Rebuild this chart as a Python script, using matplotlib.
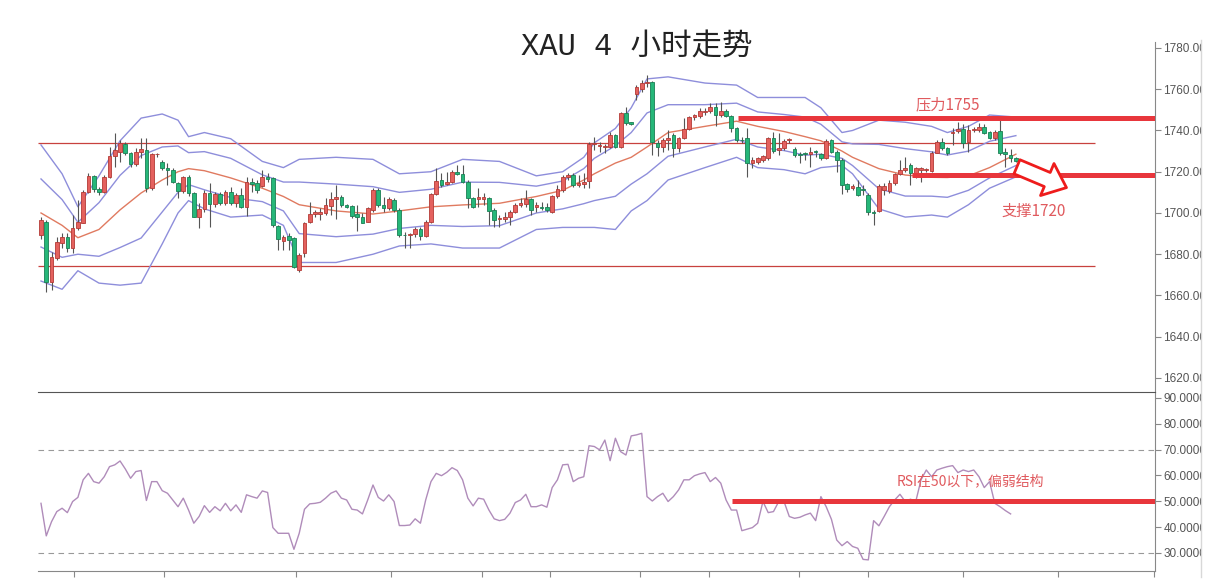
import numpy as np
import matplotlib
matplotlib.use('Agg')
import matplotlib.pyplot as plt
from matplotlib.patches import Rectangle
from matplotlib.lines import Line2D
from matplotlib import font_manager

# 4小时K线
opens = [1689.3, 1695.8, 1666.7, 1678.0, 1685.3, 1688.5, 1682.9, 1692.6, 1695.3, 1710.4,
         1718.0, 1711.5, 1710.4, 1717.3, 1727.6, 1729.7, 1733.5, 1728.9, 1723.8, 1729.4,
         1730.6, 1712.0, 1728.4, 1724.9, 1722.0, 1720.9, 1714.4, 1710.8, 1717.3, 1709.6,
         1698.2, 1701.8, 1709.5, 1704.4, 1709.1, 1704.7, 1710.4, 1704.7, 1708.7, 1703.1,
         1715.2, 1714.4, 1713.1, 1717.6, 1716.8, 1693.9, 1686.6, 1688.9, 1687.7, 1672.4,
         1680.5, 1695.8, 1699.5, 1699.5, 1700.2, 1703.6, 1706.8, 1707.9, 1703.9, 1703.4,
         1699.5, 1698.2, 1695.8, 1701.5, 1711.2, 1703.9, 1702.3, 1706.3, 1701.5, 1689.3,
         1689.3, 1689.8, 1692.1, 1689.0, 1695.8, 1709.2, 1716.0, 1714.1, 1715.2, 1719.7,
         1718.9, 1715.2, 1707.1, 1706.6, 1706.6, 1707.1, 1701.5, 1697.1, 1697.1, 1698.2,
         1700.7, 1703.9, 1704.4, 1706.8, 1703.1, 1703.1, 1703.1, 1700.7, 1708.2, 1711.2,
         1717.3, 1718.4, 1713.6, 1714.1, 1715.7, 1733.5, 1732.5, 1731.8, 1732.2, 1737.8,
         1731.8, 1748.6, 1744.3, 1757.7, 1760.0, 1762.9, 1763.7, 1734.1, 1731.8, 1735.4,
         1737.8, 1731.4, 1736.2, 1740.6, 1746.7, 1746.8, 1749.0, 1749.6, 1751.6, 1747.5,
         1749.6, 1747.0, 1741.1, 1735.4, 1736.2, 1724.4, 1724.9, 1725.7, 1726.5, 1736.2,
         1730.7, 1731.4, 1735.4, 1730.9, 1728.6, 1728.9, 1728.6, 1729.9, 1728.6, 1726.5,
         1735.4, 1729.7, 1725.7, 1714.1, 1712.3, 1712.8, 1711.5, 1708.7, 1700.5, 1701.1,
         1711.2, 1710.8, 1714.4, 1718.9, 1720.9, 1723.3, 1719.6, 1720.9, 1720.9, 1720.5,
         1729.3, 1734.6, 1731.4, 1738.6, 1739.9, 1740.6, 1734.6, 1740.2, 1740.2, 1741.9,
         1739.4, 1736.2, 1739.9, 1729.7, 1728.1, 1726.5]
highs = [1698.2, 1696.6, 1681.3, 1688.5, 1690.2, 1690.2, 1699.0, 1706.3, 1711.2, 1719.2,
         1718.4, 1712.8, 1718.4, 1732.2, 1739.0, 1735.4, 1734.6, 1729.7, 1731.4, 1736.2,
         1736.2, 1729.0, 1729.3, 1725.7, 1724.4, 1721.7, 1715.2, 1718.0, 1718.4, 1710.4,
         1704.7, 1711.2, 1714.4, 1710.4, 1710.4, 1711.2, 1712.8, 1709.5, 1712.0, 1717.6,
         1716.8, 1716.0, 1720.9, 1719.2, 1717.3, 1694.2, 1689.3, 1690.2, 1688.5, 1680.5,
         1695.8, 1705.5, 1701.5, 1702.3, 1707.1, 1710.4, 1713.6, 1708.7, 1704.4, 1703.9,
         1703.9, 1699.8, 1703.0, 1712.0, 1712.0, 1707.9, 1707.6, 1707.1, 1702.3, 1691.0,
         1690.5, 1693.1, 1693.1, 1696.6, 1709.5, 1721.7, 1719.2, 1720.0, 1720.9, 1723.3,
         1723.3, 1716.0, 1707.6, 1712.0, 1709.5, 1707.9, 1702.3, 1699.0, 1700.7, 1701.5,
         1704.7, 1707.1, 1711.2, 1707.1, 1705.5, 1705.5, 1704.7, 1708.7, 1713.6, 1718.4,
         1719.2, 1719.2, 1718.4, 1719.6, 1734.6, 1737.0, 1734.6, 1733.5, 1739.4, 1738.3,
         1749.1, 1751.6, 1744.3, 1762.1, 1764.5, 1766.9, 1764.2, 1735.4, 1736.2, 1740.2,
         1738.6, 1737.0, 1745.9, 1747.0, 1748.1, 1750.7, 1750.7, 1753.2, 1753.5, 1754.0,
         1750.3, 1747.5, 1741.5, 1737.0, 1741.1, 1727.3, 1727.3, 1728.1, 1737.0, 1739.4,
         1738.6, 1735.7, 1736.2, 1731.8, 1729.7, 1729.7, 1731.8, 1730.6, 1729.3, 1735.7,
         1735.7, 1730.6, 1726.5, 1714.7, 1714.0, 1716.0, 1713.6, 1709.5, 1701.5, 1714.0,
         1714.4, 1716.0, 1719.6, 1725.7, 1727.3, 1724.1, 1722.5, 1722.5, 1722.0, 1730.1,
         1735.4, 1736.2, 1732.2, 1741.1, 1744.3, 1743.0, 1742.7, 1741.5, 1743.8, 1743.0,
         1739.9, 1740.2, 1745.1, 1731.4, 1731.2, 1726.9]
lows = [1687.2, 1661.9, 1662.7, 1677.2, 1682.9, 1681.3, 1680.5, 1691.8, 1695.0, 1709.6,
        1710.4, 1708.7, 1709.6, 1716.8, 1722.5, 1724.9, 1728.1, 1722.5, 1722.8, 1726.5,
        1710.4, 1711.2, 1727.3, 1720.9, 1713.6, 1714.4, 1707.1, 1709.6, 1708.3, 1697.9,
        1692.6, 1700.7, 1693.4, 1703.1, 1703.9, 1703.9, 1703.9, 1703.1, 1702.3, 1698.6,
        1710.4, 1709.5, 1712.8, 1715.2, 1693.4, 1682.1, 1682.1, 1682.1, 1673.2, 1671.6,
        1678.8, 1695.0, 1698.2, 1696.6, 1699.0, 1699.0, 1696.9, 1703.1, 1702.5, 1697.4,
        1691.4, 1695.0, 1695.5, 1700.7, 1703.1, 1700.7, 1701.5, 1700.7, 1688.5, 1682.9,
        1682.9, 1688.5, 1687.0, 1688.2, 1695.0, 1708.7, 1712.8, 1713.6, 1714.4, 1718.4,
        1714.4, 1702.3, 1702.3, 1703.1, 1703.9, 1694.2, 1693.4, 1693.4, 1695.8, 1694.2,
        1699.8, 1703.1, 1703.1, 1699.0, 1700.7, 1701.5, 1700.7, 1699.8, 1707.1, 1710.4,
        1716.0, 1712.8, 1712.8, 1712.0, 1712.0, 1730.6, 1729.7, 1728.9, 1731.4, 1731.4,
        1731.4, 1742.7, 1742.7, 1754.8, 1758.8, 1761.2, 1728.1, 1727.6, 1729.7, 1730.6,
        1727.0, 1729.7, 1735.7, 1740.2, 1745.1, 1745.9, 1747.5, 1748.6, 1742.2, 1746.7,
        1746.7, 1739.4, 1734.6, 1734.1, 1717.3, 1721.7, 1723.7, 1724.9, 1725.7, 1728.9,
        1728.1, 1730.6, 1734.1, 1727.3, 1724.1, 1725.7, 1722.5, 1727.3, 1725.7, 1726.0,
        1729.3, 1720.0, 1709.2, 1710.4, 1711.0, 1708.2, 1708.7, 1699.0, 1694.2, 1700.7,
        1708.7, 1709.5, 1713.6, 1718.4, 1720.1, 1713.6, 1716.8, 1715.2, 1720.0, 1720.1,
        1728.9, 1730.6, 1728.1, 1733.0, 1738.6, 1731.4, 1729.7, 1739.4, 1739.4, 1738.3,
        1735.7, 1735.4, 1728.1, 1722.5, 1724.9, 1724.6]
closes = [1696.6, 1666.7, 1678.8, 1686.1, 1688.5, 1682.9, 1692.6, 1695.5, 1710.4, 1718.0,
          1711.5, 1710.4, 1717.3, 1727.6, 1730.6, 1734.1, 1729.3, 1723.8, 1729.4, 1730.9,
          1712.0, 1728.6, 1728.6, 1721.7, 1720.9, 1714.9, 1710.8, 1717.3, 1709.6, 1698.2,
          1701.8, 1709.5, 1704.4, 1709.1, 1704.7, 1710.4, 1704.7, 1708.7, 1703.1, 1715.2,
          1714.1, 1711.2, 1717.6, 1716.3, 1694.2, 1687.2, 1688.5, 1687.0, 1674.0, 1679.6,
          1695.3, 1699.5, 1700.7, 1700.7, 1703.9, 1706.8, 1707.9, 1703.9, 1703.1, 1698.6,
          1698.2, 1695.3, 1702.3, 1711.2, 1703.9, 1702.3, 1706.6, 1701.5, 1689.3, 1689.1,
          1689.8, 1692.1, 1689.0, 1695.8, 1709.2, 1715.7, 1713.6, 1715.2, 1719.7, 1718.9,
          1715.2, 1707.1, 1703.1, 1707.6, 1707.6, 1701.2, 1696.6, 1697.1, 1698.2, 1700.7,
          1703.9, 1704.7, 1706.8, 1701.5, 1703.9, 1702.3, 1701.5, 1708.2, 1711.5, 1717.6,
          1718.4, 1713.6, 1714.7, 1715.2, 1733.5, 1734.0, 1732.6, 1732.5, 1737.8, 1732.2,
          1748.6, 1743.8, 1743.0, 1760.9, 1762.9, 1763.7, 1734.6, 1731.8, 1735.4, 1736.2,
          1731.4, 1736.2, 1740.6, 1746.7, 1747.5, 1749.4, 1749.1, 1751.6, 1747.5, 1749.6,
          1747.0, 1741.1, 1735.4, 1735.2, 1724.1, 1725.7, 1726.5, 1727.6, 1736.2, 1730.2,
          1731.4, 1735.1, 1735.4, 1728.1, 1728.1, 1728.6, 1729.7, 1729.4, 1726.5, 1735.1,
          1729.7, 1725.7, 1713.6, 1711.5, 1713.1, 1708.7, 1711.2, 1700.7, 1699.8, 1713.1,
          1713.1, 1714.7, 1718.9, 1720.9, 1721.7, 1719.2, 1721.7, 1721.7, 1721.1, 1729.3,
          1734.6, 1731.4, 1728.9, 1739.4, 1740.6, 1734.1, 1740.2, 1740.6, 1741.9, 1738.9,
          1736.2, 1739.4, 1729.3, 1728.4, 1726.5, 1725.4]

# 布林带 (读图取样点)
band_idx = [0, 4, 7, 11, 15, 19, 23, 26, 28, 31, 36, 42, 46, 49, 56, 63, 68, 74, 80, 87,
            94, 99, 103, 105, 109, 112, 115, 119, 126, 132, 136, 141, 145, 148, 152, 154,
            159, 164, 169, 172, 176, 180, 185]
band_mid = [1700, 1694, 1688, 1692, 1701.5, 1709.7, 1716, 1720, 1721.5, 1720.5, 1717, 1712,
            1708, 1704, 1701, 1699.5, 1701, 1703, 1703.9, 1704.7, 1708, 1711, 1716, 1719,
            1724.2, 1727, 1732, 1739, 1742, 1744.5, 1742, 1739.5, 1737, 1735, 1730, 1727,
            1721.5, 1718.4, 1717.3, 1717.2, 1718, 1722, 1728.5]
band_up = [1733, 1719, 1703, 1718, 1735, 1746, 1748, 1745, 1737, 1739, 1736, 1725, 1722,
           1726, 1727, 1726, 1719, 1720, 1726, 1725, 1718, 1720, 1727, 1734, 1741, 1751,
           1765, 1766, 1763, 1762, 1756, 1756, 1756, 1751, 1739, 1740, 1745, 1744, 1742,
           1739, 1742, 1747.5, 1746.5]
band_lo = [1667, 1663, 1672, 1666, 1665, 1666, 1685, 1700, 1706, 1702, 1698, 1699, 1694,
           1676, 1676, 1680, 1684, 1685, 1683, 1683, 1692, 1693, 1693, 1693, 1692, 1701,
           1706, 1716, 1722, 1727, 1722, 1721, 1719, 1722, 1723, 1719, 1702, 1698, 1699,
           1698, 1704, 1712, 1717.5]

rsi = [49.2, 36.6, 42.1, 46.0, 47.3, 45.6, 49.9, 51.5, 58.3,
       60.8, 57.6, 57.0, 59.5, 63.4, 64.1, 65.6, 62.5, 58.9, 61.5,
       61.9, 50.3, 57.6, 57.6, 54.1, 53.1, 50.5, 47.9, 51.2, 46.6,
       41.5, 44.1, 48.3, 45.7, 47.9, 46.3, 49.2, 46.3, 48.6, 45.7,
       52.5, 51.8, 51.2, 54.0, 53.4, 39.8, 37.6, 37.6, 37.6, 31.4,
       37.6, 46.9, 49.0, 49.2, 49.6, 51.2, 53.1, 54.0, 51.2, 50.5,
       46.9, 46.6, 45.1, 50.5, 56.3, 51.5, 50.1, 52.5, 49.9, 40.6,
       40.6, 40.8, 43.2, 41.5, 50.5, 57.6, 60.8, 59.9, 61.2, 63.0,
       61.9, 58.3, 51.2, 48.2, 51.2, 50.8, 46.6, 43.2, 42.5, 43.0,
       45.4, 49.5, 50.5, 52.7, 47.9, 47.9, 48.6, 47.7, 55.3, 58.3,
       64.1, 64.3, 57.6, 58.9, 59.5, 71.5, 71.2,
       69.9, 73.7, 65.7, 74.4, 69.2, 67.9, 75.3, 75.7, 76.3, 51.8,
       50.1, 51.8, 53.1, 49.9, 51.8, 54.4, 58.3, 58.3, 59.9, 60.6,
       61.1, 57.6, 59.2, 57.0, 50.5, 46.6, 46.6, 38.6, 39.2, 39.8,
       41.5, 49.9, 45.6, 46.0, 49.9, 49.9, 44.1, 43.4, 43.8, 44.7,
       45.4, 42.5, 51.8, 47.9, 43.0, 35.0, 32.8, 34.4, 32.5, 31.8,
       27.5, 27.3, 42.5, 40.5, 44.1, 47.9, 50.5, 52.7, 49.9, 50.8,
       49.9, 58.3, 62.1, 59.5, 62.1, 62.8, 63.4, 63.8, 61.1, 62.1,
       61.5, 62.1, 59.5, 55.3, 57.6, 49.2, 47.9, 46.4, 45.1]

price_ticks = [1620, 1640, 1660, 1680, 1700, 1720, 1740, 1760, 1780]
rsi_ticks = [30, 40, 50, 60, 70, 80, 90]
time_ticks = [6.3, 23.4, 48.4, 66.5, 83.6, 96.6, 113.7, 126.7, 143.8, 157, 174.9, 193, 211.2]

range_high, range_low = 1734, 1674.3
resist, support = 1746.1, 1718.4

W, H = 1222, 587
XL = (-0.57, 211.4)

fig = plt.figure(figsize=(W / 100, H / 100), dpi=100)


def box(l, t, r, b):
    return [l / W, 1 - b / H, (r - l) / W, (b - t) / H]


ax = fig.add_axes(box(38, 42, 1155, 392))
ax2 = fig.add_axes(box(38, 392, 1155, 571))

cjk = ['Noto Sans CJK SC', 'DejaVu Sans']

# K线
x = np.arange(len(closes))
o = np.array(opens)
c = np.array(closes)
up = c >= o
ax.vlines(x, lows, highs, color='#555555', lw=0.8, zorder=3)
body_lo = np.minimum(o, c)
body_h = np.maximum(np.abs(c - o), 0.35)
ax.bar(x[up], body_h[up], bottom=body_lo[up], width=0.7, color='#e4615e',
       edgecolor='#b33a36', lw=0.6, zorder=4)
ax.bar(x[~up], body_h[~up], bottom=body_lo[~up], width=0.7, color='#26b779',
       edgecolor='#1a7f54', lw=0.6, zorder=4)

# 布林带
bi = np.array(band_idx)
bm = np.array(band_mid)
bu = np.array(band_up)
bl = np.array(band_lo)
band_col = '#8e8edb'
ax.plot(bi, bu, color=band_col, lw=1, zorder=2)
ax.plot(bi, bl, color=band_col, lw=1, zorder=2)
ax.plot(bi, (bu + bm) / 2, color=band_col, lw=1, zorder=2)
ax.plot(bi, (bl + bm) / 2, color=band_col, lw=1, zorder=2)
ax.plot(bi, bm, color='#e07a60', lw=1, zorder=2)

# 区间线
ax.hlines([range_high, range_low], XL[0], 200, color='#c8413e', lw=0.9, zorder=1)
ax.hlines(resist, 132.3, XL[1], color='#e8363c', lw=3.6, zorder=5)
ax.hlines(support, 165.3, XL[1], color='#e8363c', lw=3.6, zorder=5)
ax.text(172.1, 1752.6, '压力1755', color='#e05a5e', fontsize=11, ha='center', va='center', family=cjk)
ax.text(188.4, 1701, '支撑1720', color='#e05a5e', fontsize=11, ha='center', va='center', family=cjk)
ax.annotate('', xy=(194.6, 1712.3), xytext=(185.2, 1722.4),
            arrowprops=dict(arrowstyle='simple,head_length=0.75,head_width=1.25,tail_width=0.55',
                            fc='white', ec='#ee1c1c', lw=2, shrinkA=0, shrinkB=0,
                            mutation_scale=20), zorder=6)

ax.set_xlim(*XL)
ax.set_ylim(1613.2, 1782.9)
ax.set_yticks(price_ticks)
ax.set_yticklabels(['%.2f' % v for v in price_ticks])
ax.yaxis.tick_right()
ax.tick_params(axis='y', direction='out', length=4, color='#888888', labelcolor='#555555',
               labelsize=8.5, pad=2)
ax.tick_params(axis='x', bottom=False, labelbottom=False)
for s in ['top', 'left', 'bottom']:
    ax.spines[s].set_visible(False)
ax.spines['right'].set_color('#888888')

# RSI
ax2.plot(np.arange(len(rsi)), rsi, color='#b08cba', lw=1, zorder=3)
ax2.axhline(70, color='#999999', ls=(0, (5, 4)), lw=0.8)
ax2.axhline(30, color='#999999', ls=(0, (5, 4)), lw=0.8)
ax2.hlines(50, 131.1, XL[1], color='#e8363c', lw=3.6, zorder=5)
ax2.text(176.3, 57.6, 'RSI在50以下，偏弱结构', color='#e05a5e', fontsize=10, ha='center',
         va='center', family=cjk, zorder=6)
ax2.set_xlim(*XL)
ax2.set_ylim(23.0, 92.3)
ax2.set_yticks(rsi_ticks)
ax2.set_yticklabels(['%.4f' % v for v in rsi_ticks])
ax2.yaxis.tick_right()
ax2.tick_params(axis='y', direction='out', length=4, color='#888888', labelcolor='#555555',
                labelsize=8.5, pad=2)
ax2.set_xticks(time_ticks)
ax2.tick_params(axis='x', direction='out', length=4, color='#888888', labelbottom=False)
ax2.spines['left'].set_visible(False)
ax2.spines['top'].set_color('#555555')
ax2.spines['bottom'].set_color('#888888')
ax2.spines['right'].set_color('#888888')

for a in (ax, ax2):
    for lab in a.get_yticklabels():
        lab.set_family(['Liberation Sans', 'DejaVu Sans'])

# 标题: 拉丁字母用等宽衬线体, 汉字用 Noto Sans CJK
names = {f.name for f in font_manager.fontManager.ttflist}
latin = 'Liberation Mono' if 'Liberation Mono' in names else 'Liberation Serif'
fig.text(637 / W, 1 - 48 / H, 'XAU 4 小时走势', fontsize=22, ha='center', va='center',
         color='#222222', family=[latin, 'Noto Sans CJK SC'])

# 右侧截边
fig.patches.append(Rectangle((1201 / W, 0), 1, 1, transform=fig.transFigure,
                             facecolor='white', edgecolor='none', zorder=10))
fig.lines.append(Line2D([1200.5 / W, 1200.5 / W], [1 - 577 / H, 1 - 40 / H],
                        transform=fig.transFigure, color='#d8d8d8', lw=1, zorder=11))

fig.savefig('out.png', dpi=100, facecolor='white')
